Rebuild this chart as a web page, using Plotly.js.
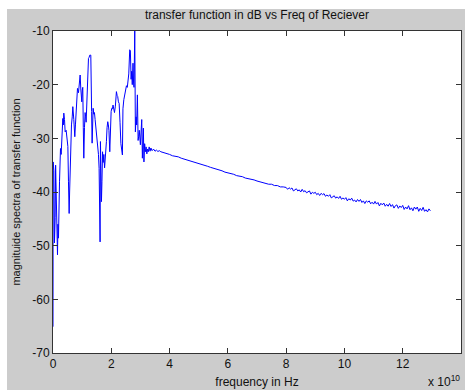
<!DOCTYPE html>
<html>
<head>
<meta charset="utf-8">
<script src="https://cdn.plot.ly/plotly-3.0.1.min.js"></script>
<style>html,body{margin:0;padding:0;background:#fff;}#chart{width:465px;height:390px;}</style>
</head>
<body>
<div id="chart"></div>
<script>
// frequency in units of 1e10 Hz
const freqEarly = [0.000,0.006,0.03,0.05,0.074,0.09,0.12,0.154,0.17,0.188,0.223,0.257,0.28,0.303,0.337,0.355,0.371,0.395,0.417,0.451,0.486,0.51,0.531,0.554,0.57,0.588,0.61,0.634,0.66,0.68,0.714,0.748,0.77,0.794,0.82,0.84,0.874,0.9,0.931,0.954,0.97,0.988,1.005,1.022,1.04,1.057,1.08,1.102,1.12,1.137,1.16,1.182,1.2,1.217,1.24,1.262,1.297,1.308,1.325,1.342,1.36,1.377,1.40,1.422,1.445,1.468,1.502,1.536,1.56,1.582,1.60,1.616,1.628,1.645,1.662,1.68,1.7,1.72,1.745,1.77,1.80,1.833,1.855,1.879,1.9,1.92,1.948,1.97,1.995,2.016,2.04,2.06,2.085,2.11,2.14,2.176,2.2,2.22,2.245,2.27,2.3,2.33,2.382,2.40,2.43,2.46,2.485,2.52,2.55,2.575,2.60,2.633,2.655,2.68,2.70,2.72,2.745,2.765,2.78,2.805,2.827,2.85,2.87,2.896,2.92,2.94,2.96,2.999,3.02,3.045,3.067,3.085,3.101,3.12,3.145,3.17,3.195,3.22,3.245,3.27,3.3,3.33,3.36,3.4,3.45,3.5];
const magEarly = [-65.1,-34.4,-36,-49.5,-44.8,-35,-41.8,-51.7,-46,-48.6,-38.1,-31.9,-33,-30.6,-26.3,-27.5,-25.3,-26.5,-28.8,-28.5,-30.6,-31.5,-38.1,-44.0,-40,-35.6,-33,-27.5,-26,-24.1,-26.5,-29.7,-27.5,-24.8,-21.5,-20.7,-21.5,-20,-18.2,-20.8,-21.5,-23.2,-21,-20.5,-28,-33.7,-28,-25.2,-26,-27.0,-22,-18.5,-16.5,-15.1,-14.9,-14.5,-14.5,-17.0,-25,-30.9,-27,-24.4,-25.5,-25.2,-26.5,-27.7,-28.8,-31.7,-33,-35.6,-41.8,-49.3,-30.6,-36,-41.8,-38,-32.5,-34.5,-33,-35.5,-33.5,-30.6,-28,-26.9,-27.5,-28.5,-32.5,-27,-25,-24.4,-24.5,-23.8,-24.6,-25.2,-24,-21.3,-22,-22.2,-23.2,-23.5,-27,-31,-33.1,-24.5,-22.8,-22,-20.7,-20.2,-20.5,-19.3,-18,-13.5,-13.7,-19,-17.5,-20,-16,-19.7,-20.5,-10,-28.8,-26,-27.5,-21.9,-30.4,-29.6,-28.5,-31.2,-29,-26.5,-33.7,-30,-28.1,-34.4,-31,-32.5,-31.6,-32.9,-32,-32.5,-31.6,-32.4,-31.8,-32.3,-32.0,-32.4];
const freqTail = [3.55,3.6,3.65,3.7,3.8,3.9,4.0,4.1,4.2,4.3,4.4,4.5,4.6,4.7,4.8,4.9,5.0,5.1,5.2,5.3,5.4,5.5,5.6,5.7,5.8,5.9,6.0,6.1,6.2,6.3,6.4,6.5,6.6,6.7,6.8,6.9,7.0,7.1,7.2,7.3,7.4,7.5,7.6,7.7,7.8,7.9,
  8.00,8.05,8.10,8.15,8.20,8.25,8.30,8.35,8.40,8.45,8.50,8.55,8.60,8.65,8.70,8.75,8.80,8.85,8.90,8.95,
  9.00,9.05,9.10,9.15,9.20,9.25,9.30,9.35,9.40,9.45,9.50,9.55,9.60,9.65,9.70,9.75,9.80,9.85,9.90,9.95,
  10.00,10.05,10.10,10.15,10.20,10.25,10.30,10.35,10.40,10.45,10.50,10.55,10.60,10.65,10.70,10.75,10.80,10.85,10.90,10.95,
  11.00,11.05,11.10,11.15,11.20,11.25,11.30,11.35,11.40,11.45,11.50,11.55,11.60,11.65,11.70,11.75,11.80,11.85,11.90,11.95,
  12.00,12.05,12.10,12.15,12.20,12.25,12.30,12.35,12.40,12.45,12.50,12.55,12.60,12.65,12.70,12.75,12.80,12.85,12.90,12.95];
const magTail = [-32.2,-32.45,-32.3,-32.5,-32.65,-32.8,-33.0,-33.25,-33.35,-33.45,-33.7,-33.85,-34.0,-34.25,-34.35,-34.5,-34.75,-34.9,-35.05,-35.2,-35.4,-35.55,-35.8,-35.9,-36.05,-36.3,-36.4,-36.6,-36.7,-36.95,-37.05,-37.15,-37.4,-37.5,-37.7,-37.75,-37.95,-38.1,-38.2,-38.3,-38.55,-38.55,-38.8,-38.8,-39.05,-39.05,
  -39.15,-39.5,-39.2,-39.45,-39.25,-39.8,-39.5,-39.4,-39.8,-39.6,-40.0,-39.5,-39.95,-39.75,-40.15,-39.95,-39.8,-40.4,-40.05,-40.25,
  -40.05,-40.5,-40.25,-40.65,-40.25,-40.5,-40.3,-40.8,-40.55,-40.8,-40.5,-41.1,-40.8,-40.7,-41.15,-40.9,-41.2,-40.8,-41.35,-41.1,
  -41.35,-41.05,-41.65,-41.25,-41.5,-41.15,-41.7,-41.5,-41.85,-41.4,-41.75,-41.4,-41.95,-41.65,-42.15,-41.65,-41.9,-41.65,-42.2,-41.9,
  -42.25,-41.75,-42.25,-41.95,-42.6,-42.1,-42.4,-42.05,-42.65,-42.3,-42.65,-42.15,-42.7,-42.35,-43.0,-42.55,-42.4,-43.05,-42.6,-42.9,
  -42.5,-43.25,-42.8,-43.15,-42.55,-43.3,-42.95,-43.5,-42.8,-43.2,-42.8,-43.6,-43.05,-43.45,-42.85,-43.6,-43.3,-43.7,-43.15,-43.5];
const xTicks = [0,2,4,6,8,10,12,14];
const yTicks = [-70,-60,-50,-40,-30,-20,-10];

const freq = freqEarly.concat(freqTail);
const mag = magEarly.concat(magTail);

const FAM = 'Liberation Sans, Arial, sans-serif';
const FONT = {family: FAM, size: 12, color: '#111'};
const L = 53, R = 4, T = 31, B = 37, W = 465, H = 390;
const pw = W - L - R, ph = H - T - B;
const px2x = p => (p - L) / pw;
const py2y = p => (H - B - p) / ph;

const trace = {
  x: freq, y: mag, type: 'scatter', mode: 'lines',
  line: {color: '#0000ff', width: 1}, hoverinfo: 'skip'
};

const layout = {
  width: W, height: H,
  margin: {l: L, r: R, t: T, b: B, pad: 0},
  paper_bgcolor: '#cccccc', plot_bgcolor: '#ffffff',
  font: FONT, showlegend: false,
  title: {text: 'transfer function in dB vs Freq of Reciever', font: FONT,
          x: 0.5, xref: 'paper', xanchor: 'center', y: 1 - 15/H, yref: 'container', yanchor: 'middle'},
  xaxis: {range: [0, 14], tickvals: xTicks, ticktext: xTicks.map(String), tickfont: FONT,
          showgrid: false, zeroline: false, showline: true, linecolor: '#333', linewidth: 1,
          mirror: 'ticks', ticks: 'inside', ticklen: 5, tickcolor: '#333',
          title: {text: 'frequency in Hz', font: FONT, standoff: 7}, automargin: false},
  yaxis: {range: [-70, -10], tickvals: yTicks, ticktext: yTicks.map(String), tickfont: FONT,
          showgrid: false, zeroline: false, showline: true, linecolor: '#333', linewidth: 1,
          mirror: 'ticks', ticks: 'inside', ticklen: 5, tickcolor: '#333',
          title: {text: 'magnituide spectra of transfer function', font: {family: FAM, size: 11, color: '#111'}, standoff: 9}, automargin: false},
  shapes: [
    {type: 'rect', xref: 'paper', yref: 'paper', x0: px2x(0), x1: px2x(7), y0: py2y(H), y1: py2y(0),
     fillcolor: '#ffffff', line: {width: 0}, layer: 'below'},
    {type: 'rect', xref: 'paper', yref: 'paper', x0: px2x(0), x1: px2x(W), y0: py2y(9), y1: py2y(0),
     fillcolor: '#ffffff', line: {width: 0}, layer: 'below'}
  ],
  annotations: [
    {text: 'x 10<sup>10</sup>', xref: 'paper', yref: 'paper', x: px2x(427), y: py2y(372),
     xanchor: 'left', yanchor: 'top', showarrow: false, font: FONT, borderpad: 0}
  ]
};

Plotly.newPlot('chart', [trace], layout, {staticPlot: true, displayModeBar: false});
</script>
</body>
</html>
